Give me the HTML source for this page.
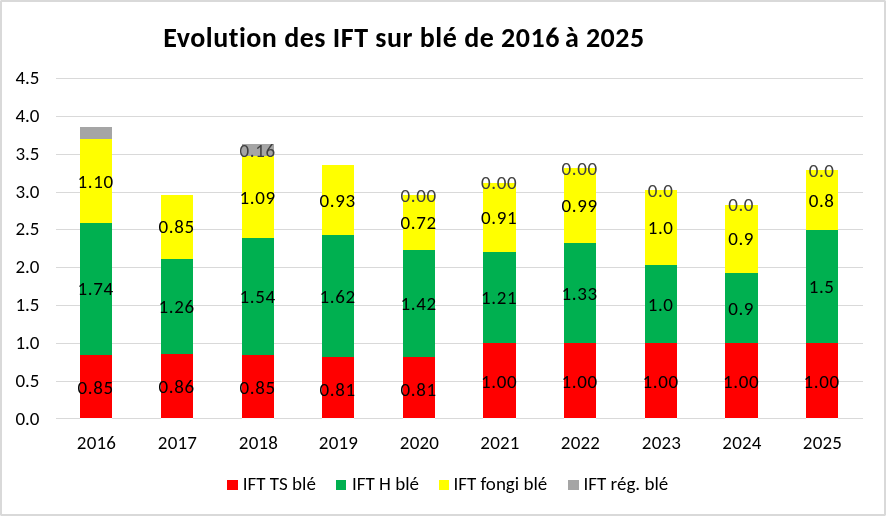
<!DOCTYPE html><html><head><meta charset="utf-8"><title>Evolution des IFT sur blé de 2016 à 2025</title><style>html,body{margin:0;padding:0;background:#fff;overflow:hidden}svg{display:block}text{font-family:Carlito,"Liberation Sans",sans-serif;font-variant-ligatures:none;font-feature-settings:"liga" 0,"clig" 0}</style></head><body>
<svg width="886" height="516" viewBox="0 0 886 516">
<g shape-rendering="crispEdges">
<rect x="0" y="0" width="886" height="516" fill="#d9d9d9"/>
<rect x="2" y="2" width="882" height="512" fill="#fff"/>
<rect x="0" y="0" width="1" height="1" fill="#ececec"/>
<rect x="885" y="0" width="1" height="1" fill="#ececec"/>
<rect x="0" y="515" width="1" height="1" fill="#ececec"/>
<rect x="885" y="515" width="1" height="1" fill="#ececec"/>
<rect x="56" y="78" width="807" height="1" fill="#d9d9d9"/>
<rect x="56" y="116" width="807" height="1" fill="#d9d9d9"/>
<rect x="56" y="154" width="807" height="1" fill="#d9d9d9"/>
<rect x="56" y="192" width="807" height="1" fill="#d9d9d9"/>
<rect x="56" y="229" width="807" height="1" fill="#d9d9d9"/>
<rect x="56" y="267" width="807" height="1" fill="#d9d9d9"/>
<rect x="56" y="305" width="807" height="1" fill="#d9d9d9"/>
<rect x="56" y="343" width="807" height="1" fill="#d9d9d9"/>
<rect x="56" y="381" width="807" height="1" fill="#d9d9d9"/>
<rect x="56" y="418" width="807" height="1" fill="#d9d9d9"/>
<rect x="80" y="355" width="32" height="63" fill="#ff0000"/>
<rect x="80" y="223" width="32" height="132" fill="#00b050"/>
<rect x="80" y="139" width="32" height="84" fill="#ffff00"/>
<rect x="80" y="127" width="32" height="12" fill="#a5a5a5"/>
<rect x="80" y="418" width="32" height="1" fill="#f6fcfc"/>
<rect x="161" y="354" width="32" height="64" fill="#ff0000"/>
<rect x="161" y="259" width="32" height="95" fill="#00b050"/>
<rect x="161" y="195" width="32" height="64" fill="#ffff00"/>
<rect x="161" y="418" width="32" height="1" fill="#f6fcfc"/>
<rect x="242" y="355" width="32" height="63" fill="#ff0000"/>
<rect x="242" y="238" width="32" height="117" fill="#00b050"/>
<rect x="242" y="156" width="32" height="82" fill="#ffff00"/>
<rect x="242" y="144" width="32" height="12" fill="#a5a5a5"/>
<rect x="242" y="418" width="32" height="1" fill="#f6fcfc"/>
<rect x="322" y="357" width="32" height="61" fill="#ff0000"/>
<rect x="322" y="235" width="32" height="122" fill="#00b050"/>
<rect x="322" y="165" width="32" height="70" fill="#ffff00"/>
<rect x="322" y="418" width="32" height="1" fill="#f6fcfc"/>
<rect x="403" y="357" width="32" height="61" fill="#ff0000"/>
<rect x="403" y="250" width="32" height="107" fill="#00b050"/>
<rect x="403" y="195" width="32" height="55" fill="#ffff00"/>
<rect x="403" y="418" width="32" height="1" fill="#f6fcfc"/>
<rect x="483" y="343" width="33" height="75" fill="#ff0000"/>
<rect x="483" y="252" width="33" height="91" fill="#00b050"/>
<rect x="483" y="183" width="33" height="69" fill="#ffff00"/>
<rect x="483" y="418" width="33" height="1" fill="#f6fcfc"/>
<rect x="564" y="343" width="32" height="75" fill="#ff0000"/>
<rect x="564" y="243" width="32" height="100" fill="#00b050"/>
<rect x="564" y="168" width="32" height="75" fill="#ffff00"/>
<rect x="564" y="418" width="32" height="1" fill="#f6fcfc"/>
<rect x="645" y="343" width="32" height="75" fill="#ff0000"/>
<rect x="645" y="265" width="32" height="78" fill="#00b050"/>
<rect x="645" y="190" width="32" height="75" fill="#ffff00"/>
<rect x="645" y="418" width="32" height="1" fill="#f6fcfc"/>
<rect x="725" y="343" width="33" height="75" fill="#ff0000"/>
<rect x="725" y="273" width="33" height="70" fill="#00b050"/>
<rect x="725" y="205" width="33" height="68" fill="#ffff00"/>
<rect x="725" y="418" width="33" height="1" fill="#f6fcfc"/>
<rect x="806" y="343" width="32" height="75" fill="#ff0000"/>
<rect x="806" y="230" width="32" height="113" fill="#00b050"/>
<rect x="806" y="170" width="32" height="60" fill="#ffff00"/>
<rect x="806" y="418" width="32" height="1" fill="#f6fcfc"/>
</g>
<text textLength="396.53" lengthAdjust="spacingAndGlyphs" x="163.36" y="47" font-size="28" font-weight="bold" letter-spacing="0.5" fill="#000">Evolution des IFT sur blé de 2016</text>
<text textLength="14.33" lengthAdjust="spacingAndGlyphs" x="564.9" y="47" font-size="28" font-weight="bold" letter-spacing="0.5" fill="#000">à</text>
<text textLength="58.77" lengthAdjust="spacingAndGlyphs" x="585.9" y="47" font-size="28" font-weight="bold" letter-spacing="0.5" fill="#000">2025</text>
<text textLength="24.06" lengthAdjust="spacingAndGlyphs" x="39.5" y="424.9" text-anchor="end" font-size="19" fill="#000">0.0</text>
<text textLength="24.06" lengthAdjust="spacingAndGlyphs" x="39.5" y="387.0" text-anchor="end" font-size="19" fill="#000">0.5</text>
<text textLength="24.06" lengthAdjust="spacingAndGlyphs" x="39.5" y="349.1" text-anchor="end" font-size="19" fill="#000">1.0</text>
<text textLength="24.06" lengthAdjust="spacingAndGlyphs" x="39.5" y="311.2" text-anchor="end" font-size="19" fill="#000">1.5</text>
<text textLength="24.06" lengthAdjust="spacingAndGlyphs" x="39.5" y="273.3" text-anchor="end" font-size="19" fill="#000">2.0</text>
<text textLength="24.06" lengthAdjust="spacingAndGlyphs" x="39.5" y="235.4" text-anchor="end" font-size="19" fill="#000">2.5</text>
<text textLength="24.06" lengthAdjust="spacingAndGlyphs" x="39.5" y="197.6" text-anchor="end" font-size="19" fill="#000">3.0</text>
<text textLength="24.06" lengthAdjust="spacingAndGlyphs" x="39.5" y="159.7" text-anchor="end" font-size="19" fill="#000">3.5</text>
<text textLength="24.06" lengthAdjust="spacingAndGlyphs" x="39.5" y="121.8" text-anchor="end" font-size="19" fill="#000">4.0</text>
<text textLength="24.06" lengthAdjust="spacingAndGlyphs" x="39.5" y="83.9" text-anchor="end" font-size="19" fill="#000">4.5</text>
<text textLength="39.33" lengthAdjust="spacingAndGlyphs" x="96.5" y="449.3" text-anchor="middle" font-size="19" letter-spacing="0.2" fill="#000">2016</text>
<text textLength="39.33" lengthAdjust="spacingAndGlyphs" x="177.5" y="449.3" text-anchor="middle" font-size="19" letter-spacing="0.2" fill="#000">2017</text>
<text textLength="39.33" lengthAdjust="spacingAndGlyphs" x="258.5" y="449.3" text-anchor="middle" font-size="19" letter-spacing="0.2" fill="#000">2018</text>
<text textLength="39.33" lengthAdjust="spacingAndGlyphs" x="338.5" y="449.3" text-anchor="middle" font-size="19" letter-spacing="0.2" fill="#000">2019</text>
<text textLength="39.33" lengthAdjust="spacingAndGlyphs" x="419.5" y="449.3" text-anchor="middle" font-size="19" letter-spacing="0.2" fill="#000">2020</text>
<text textLength="39.33" lengthAdjust="spacingAndGlyphs" x="500.0" y="449.3" text-anchor="middle" font-size="19" letter-spacing="0.2" fill="#000">2021</text>
<text textLength="39.33" lengthAdjust="spacingAndGlyphs" x="580.5" y="449.3" text-anchor="middle" font-size="19" letter-spacing="0.2" fill="#000">2022</text>
<text textLength="39.33" lengthAdjust="spacingAndGlyphs" x="661.5" y="449.3" text-anchor="middle" font-size="19" letter-spacing="0.2" fill="#000">2023</text>
<text textLength="39.33" lengthAdjust="spacingAndGlyphs" x="742.0" y="449.3" text-anchor="middle" font-size="19" letter-spacing="0.2" fill="#000">2024</text>
<text textLength="39.33" lengthAdjust="spacingAndGlyphs" x="822.5" y="449.3" text-anchor="middle" font-size="19" letter-spacing="0.2" fill="#000">2025</text>
<text textLength="36.09" lengthAdjust="spacingAndGlyphs" x="95.6" y="393.5" text-anchor="middle" font-size="19" letter-spacing="0.6" fill="#000">0.85</text>
<text textLength="36.09" lengthAdjust="spacingAndGlyphs" x="95.6" y="295.0" text-anchor="middle" font-size="19" letter-spacing="0.6" fill="#000">1.74</text>
<text textLength="36.09" lengthAdjust="spacingAndGlyphs" x="95.6" y="188.0" text-anchor="middle" font-size="19" letter-spacing="0.6" fill="#000">1.10</text>
<text textLength="36.09" lengthAdjust="spacingAndGlyphs" x="176.6" y="393.0" text-anchor="middle" font-size="19" letter-spacing="0.6" fill="#000">0.86</text>
<text textLength="36.09" lengthAdjust="spacingAndGlyphs" x="176.6" y="312.5" text-anchor="middle" font-size="19" letter-spacing="0.6" fill="#000">1.26</text>
<text textLength="36.09" lengthAdjust="spacingAndGlyphs" x="176.6" y="233.0" text-anchor="middle" font-size="19" letter-spacing="0.6" fill="#000">0.85</text>
<text textLength="36.09" lengthAdjust="spacingAndGlyphs" x="257.6" y="393.5" text-anchor="middle" font-size="19" letter-spacing="0.6" fill="#000">0.85</text>
<text textLength="36.09" lengthAdjust="spacingAndGlyphs" x="257.6" y="302.5" text-anchor="middle" font-size="19" letter-spacing="0.6" fill="#000">1.54</text>
<text textLength="36.09" lengthAdjust="spacingAndGlyphs" x="257.6" y="204.0" text-anchor="middle" font-size="19" letter-spacing="0.6" fill="#000">1.09</text>
<text textLength="36.09" lengthAdjust="spacingAndGlyphs" x="257.6" y="157.0" text-anchor="middle" font-size="19" letter-spacing="0.6" fill="#404040">0.16</text>
<text textLength="36.09" lengthAdjust="spacingAndGlyphs" x="337.6" y="395.5" text-anchor="middle" font-size="19" letter-spacing="0.6" fill="#000">0.81</text>
<text textLength="36.09" lengthAdjust="spacingAndGlyphs" x="337.6" y="303.0" text-anchor="middle" font-size="19" letter-spacing="0.6" fill="#000">1.62</text>
<text textLength="36.09" lengthAdjust="spacingAndGlyphs" x="337.6" y="207.0" text-anchor="middle" font-size="19" letter-spacing="0.6" fill="#000">0.93</text>
<text textLength="36.09" lengthAdjust="spacingAndGlyphs" x="418.6" y="395.5" text-anchor="middle" font-size="19" letter-spacing="0.6" fill="#000">0.81</text>
<text textLength="36.09" lengthAdjust="spacingAndGlyphs" x="418.6" y="309.5" text-anchor="middle" font-size="19" letter-spacing="0.6" fill="#000">1.42</text>
<text textLength="36.09" lengthAdjust="spacingAndGlyphs" x="418.6" y="228.5" text-anchor="middle" font-size="19" letter-spacing="0.6" fill="#000">0.72</text>
<text textLength="36.09" lengthAdjust="spacingAndGlyphs" x="418.6" y="202.0" text-anchor="middle" font-size="19" letter-spacing="0.6" fill="#404040">0.00</text>
<text textLength="36.09" lengthAdjust="spacingAndGlyphs" x="499.1" y="387.5" text-anchor="middle" font-size="19" letter-spacing="0.6" fill="#000">1.00</text>
<text textLength="36.09" lengthAdjust="spacingAndGlyphs" x="499.1" y="303.5" text-anchor="middle" font-size="19" letter-spacing="0.6" fill="#000">1.21</text>
<text textLength="36.09" lengthAdjust="spacingAndGlyphs" x="499.1" y="223.5" text-anchor="middle" font-size="19" letter-spacing="0.6" fill="#000">0.91</text>
<text textLength="36.09" lengthAdjust="spacingAndGlyphs" x="499.1" y="189.0" text-anchor="middle" font-size="19" letter-spacing="0.6" fill="#404040">0.00</text>
<text textLength="36.09" lengthAdjust="spacingAndGlyphs" x="579.6" y="387.5" text-anchor="middle" font-size="19" letter-spacing="0.6" fill="#000">1.00</text>
<text textLength="36.09" lengthAdjust="spacingAndGlyphs" x="579.6" y="300.0" text-anchor="middle" font-size="19" letter-spacing="0.6" fill="#000">1.33</text>
<text textLength="36.09" lengthAdjust="spacingAndGlyphs" x="579.6" y="211.5" text-anchor="middle" font-size="19" letter-spacing="0.6" fill="#000">0.99</text>
<text textLength="36.09" lengthAdjust="spacingAndGlyphs" x="579.6" y="175.0" text-anchor="middle" font-size="19" letter-spacing="0.6" fill="#404040">0.00</text>
<text textLength="36.09" lengthAdjust="spacingAndGlyphs" x="660.6" y="387.5" text-anchor="middle" font-size="19" letter-spacing="0.6" fill="#000">1.00</text>
<text textLength="25.86" lengthAdjust="spacingAndGlyphs" x="660.6" y="311.0" text-anchor="middle" font-size="19" letter-spacing="0.6" fill="#000">1.0</text>
<text textLength="25.86" lengthAdjust="spacingAndGlyphs" x="660.6" y="233.5" text-anchor="middle" font-size="19" letter-spacing="0.6" fill="#000">1.0</text>
<text textLength="25.86" lengthAdjust="spacingAndGlyphs" x="660.6" y="197.0" text-anchor="middle" font-size="19" letter-spacing="0.6" fill="#404040">0.0</text>
<text textLength="36.09" lengthAdjust="spacingAndGlyphs" x="741.1" y="387.5" text-anchor="middle" font-size="19" letter-spacing="0.6" fill="#000">1.00</text>
<text textLength="25.86" lengthAdjust="spacingAndGlyphs" x="741.1" y="315.0" text-anchor="middle" font-size="19" letter-spacing="0.6" fill="#000">0.9</text>
<text textLength="25.86" lengthAdjust="spacingAndGlyphs" x="741.1" y="245.0" text-anchor="middle" font-size="19" letter-spacing="0.6" fill="#000">0.9</text>
<text textLength="25.86" lengthAdjust="spacingAndGlyphs" x="741.1" y="211.0" text-anchor="middle" font-size="19" letter-spacing="0.6" fill="#404040">0.0</text>
<text textLength="36.09" lengthAdjust="spacingAndGlyphs" x="821.6" y="387.5" text-anchor="middle" font-size="19" letter-spacing="0.6" fill="#000">1.00</text>
<text textLength="25.86" lengthAdjust="spacingAndGlyphs" x="821.6" y="292.5" text-anchor="middle" font-size="19" letter-spacing="0.6" fill="#000">1.5</text>
<text textLength="25.86" lengthAdjust="spacingAndGlyphs" x="821.6" y="207.0" text-anchor="middle" font-size="19" letter-spacing="0.6" fill="#000">0.8</text>
<text textLength="25.86" lengthAdjust="spacingAndGlyphs" x="821.6" y="177.0" text-anchor="middle" font-size="19" letter-spacing="0.6" fill="#404040">0.0</text>
<g shape-rendering="crispEdges">
<rect x="227" y="480" width="11" height="10" fill="#ff0000"/>
<rect x="336" y="480" width="10" height="10" fill="#00b050"/>
<rect x="439" y="480" width="10" height="10" fill="#ffff00"/>
<rect x="568" y="480" width="11" height="10" fill="#a5a5a5"/>
</g>
<text textLength="73.06" lengthAdjust="spacingAndGlyphs" x="242.8" y="489.8" font-size="19" fill="#000">IFT TS blé</text>
<text textLength="67.02" lengthAdjust="spacingAndGlyphs" x="352.0" y="489.8" font-size="19" fill="#000">IFT H blé</text>
<text textLength="93.88" lengthAdjust="spacingAndGlyphs" x="453.4" y="489.8" font-size="19" fill="#000">IFT fongi blé</text>
<text textLength="84.73" lengthAdjust="spacingAndGlyphs" x="583.5" y="489.8" font-size="19" fill="#000">IFT rég. blé</text>
</svg></body></html>
